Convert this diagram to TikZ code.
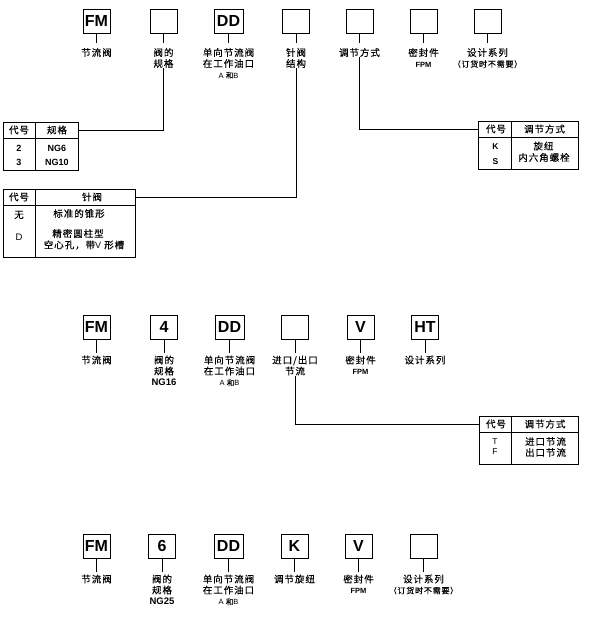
\documentclass[tikz,border=0pt]{standalone}
\usepackage{fontspec}
\setmainfont{Liberation Sans}
\newfontfamily\cjk[LetterSpace=10,FakeBold=0.2]{Noto Sans CJK SC}
\usetikzlibrary{positioning,calc}

\tikzset{
  codebox/.style={draw, line width=0.9pt, minimum width=27pt, minimum height=24pt, inner sep=0pt,
    font=\rmfamily\bfseries\fontsize{16}{16}\selectfont},
  lbl/.style={align=center, inner sep=0pt, font=\cjk\fontsize{9.5}{11}\selectfont},
  cell/.style={inner sep=0pt, font=\cjk\fontsize{9.5}{10}\selectfont},
  stem/.style={line width=0.8pt, shorten >=#1},
  stem/.default=5pt,
  link/.style={line width=0.8pt},
  tab/.style={draw, line width=0.8pt, anchor=north west, inner sep=0pt},
}
\newcommand\latb[2]{{\rmfamily\bfseries\fontsize{#1}{#1}\selectfont #2}}
\newcommand\latn[2]{{\rmfamily\fontsize{#1}{#1}\selectfont #2}}
\newcommand\portab{{\fontsize{7.5}{7.5}\selectfont\latn{7.5}{A} 和\latn{7.5}{B}}}

\begin{document}
\begin{tikzpicture}[x=1pt,y=-1pt]
\useasboundingbox (0,0) rectangle (592,617);

% first code
\node[codebox] (f1) at (96.5,21.5) {FM};
\node[codebox] (s1) at (163.5,21.5) {};
\node[codebox, minimum width=29pt] (d1) at (228.5,21.5) {DD};
\node[codebox] (n1) at (296,21.5) {};
\node[codebox] (m1) at (359.5,21.5) {};
\node[codebox] (v1) at (423.5,21.5) {};
\node[codebox] (h1) at (487.5,21.5) {};

\node[lbl, below=14pt of f1] (f1l) {节流阀};
\node[lbl, below=14pt of s1] (s1l) {阀的\\规格};
\node[lbl, below=14pt of d1] (d1l) {单向节流阀\\在工作油口\\\portab};
\node[lbl, below=14pt of n1] (n1l) {针阀\\结构};
\node[lbl, below=14pt of m1] (m1l) {调节方式};
\node[lbl, below=14pt of v1] (v1l) {密封件\\\latb{7.5}{FPM}};
\node[lbl, below=14pt of h1] (h1l) {设计系列\\{\fontsize{8}{11}\selectfont （订货时不需要）}};

\foreach \b in {f1,s1,d1,n1,m1,v1,h1}
  \draw[stem] (\b) -- (\b l);

% size table
\node[tab, minimum width=75pt, minimum height=48pt] (t1) at (3,122) {};
\draw[link] ($(t1.north west)+(0,16)$) -- ($(t1.north east)+(0,16)$);
\draw[link] ($(t1.north west)+(32,0)$) -- ($(t1.south west)+(32,0)$);
\node[cell] (t1a) at (19,130) {代号};
\node[cell] (t1b) at (57,130) {规格};
\node[cell] (t1c) at (19,148) {\latb{9}{2}};
\node[cell] (t1d) at (57,148) {\latb{9}{NG6}};
\node[cell] (t1e) at (19,162) {\latb{9}{3}};
\node[cell] (t1f) at (57,162) {\latb{9}{NG10}};
\coordinate (t1in) at ($(t1.north east)+(0,8)$);
\draw[link] (s1l) |- (t1in);

% needle table
\node[tab, minimum width=132pt, minimum height=68pt] (t2) at (3,189) {};
\draw[link] ($(t2.north west)+(0,16)$) -- ($(t2.north east)+(0,16)$);
\draw[link] ($(t2.north west)+(32,0)$) -- ($(t2.south west)+(32,0)$);
\node[cell] (t2a) at (19,197) {代号};
\node[cell] (t2b) at (92,197) {针阀};
\node[cell] (t2c) at (19,215) {无};
\node[cell] (t2d) at (79,213.5) {标准的锥形};
\node[cell] (t2e) at (19,237) {\latn{9.5}{D}};
\node[cell] (t2f) at (78,233.5) {精密圆柱型};
\node[cell] (t2g) at (84,245) {空心孔，带\latn{9}{V} 形槽};
\coordinate (t2in) at ($(t2.north east)+(0,8)$);
\draw[link] (n1l) |- (t2in);

% adjust table
\node[tab, minimum width=100pt, minimum height=48pt] (t3) at (478,121) {};
\draw[link] ($(t3.north west)+(0,16)$) -- ($(t3.north east)+(0,16)$);
\draw[link] ($(t3.north west)+(33,0)$) -- ($(t3.south west)+(33,0)$);
\node[cell] (t3a) at (496,129) {代号};
\node[cell] (t3b) at (544.5,129) {调节方式};
\node[cell] (t3c) at (495.5,146.5) {\latb{8.5}{K}};
\node[cell] (t3d) at (495.5,162) {\latb{8.5}{S}};
\node[cell] (t3e) at (543.5,146) {旋纽};
\node[cell] (t3f) at (544,157.5) {内六角螺栓};
\coordinate (t3in) at ($(t3.north west)+(0,8)$);
\draw[link] (m1l) |- (t3in);

% second code
\node[codebox] (f2) at (96.5,327) {FM};
\node[codebox] (s2) at (164,327) {4};
\node[codebox, minimum width=29pt] (d2) at (229.5,327) {DD};
\node[codebox] (n2) at (295,327) {};
\node[codebox] (v2) at (360.5,327) {V};
\node[codebox] (h2) at (425,327) {HT};

\node[lbl, below=16pt of f2] (f2l) {节流阀};
\node[lbl, below=16pt of s2] (s2l) {阀的\\规格\\\latb{9.5}{NG16}};
\node[lbl, below=16pt of d2] (d2l) {单向节流阀\\在工作油口\\\portab};
\node[lbl, below=16pt of n2] (n2l) {进口/出口\\节流};
\node[lbl, below=16pt of v2] (v2l) {密封件\\\latb{7.5}{FPM}};
\node[lbl, below=16pt of h2] (h2l) {设计系列};

\foreach \b in {f2,s2,d2,n2,v2,h2}
  \draw[stem=2pt] (\b) -- (\b l);

% flow table
\node[tab, minimum width=99pt, minimum height=48pt] (t4) at (479,416) {};
\draw[link] ($(t4.north west)+(0,16)$) -- ($(t4.north east)+(0,16)$);
\draw[link] ($(t4.north west)+(32,0)$) -- ($(t4.south west)+(32,0)$);
\node[cell] (t4a) at (496,424) {代号};
\node[cell] (t4b) at (545,424) {调节方式};
\node[cell] (t4c) at (495,441.5) {\latn{8.5}{T}};
\node[cell] (t4d) at (495,452) {\latn{8.5}{F}};
\node[cell] (t4e) at (545.5,441.5) {进口节流};
\node[cell] (t4f) at (545.5,452.5) {出口节流};
\coordinate (t4in) at ($(t4.north west)+(0,8)$);
\draw[link] (n2l) |- (t4in);

% third code
\node[codebox] (f3) at (96.5,546) {FM};
\node[codebox] (s3) at (162,546) {6};
\node[codebox, minimum width=29pt] (d3) at (228.5,546) {DD};
\node[codebox] (k3) at (294.5,546) {K};
\node[codebox] (v3) at (358.5,546) {V};
\node[codebox] (h3) at (423.5,546) {};

\node[lbl, below=16pt of f3] (f3l) {节流阀};
\node[lbl, below=16pt of s3] (s3l) {阀的\\规格\\\latb{9.5}{NG25}};
\node[lbl, below=16pt of d3] (d3l) {单向节流阀\\在工作油口\\\portab};
\node[lbl, below=16pt of k3] (k3l) {调节旋纽};
\node[lbl, below=16pt of v3] (v3l) {密封件\\\latb{7.5}{FPM}};
\node[lbl, below=16pt of h3] (h3l) {设计系列\\{\fontsize{8}{11}\selectfont （订货时不需要）}};

\foreach \b in {f3,s3,d3,k3,v3,h3}
  \draw[stem=2pt] (\b) -- (\b l);
\end{tikzpicture}
\end{document}
